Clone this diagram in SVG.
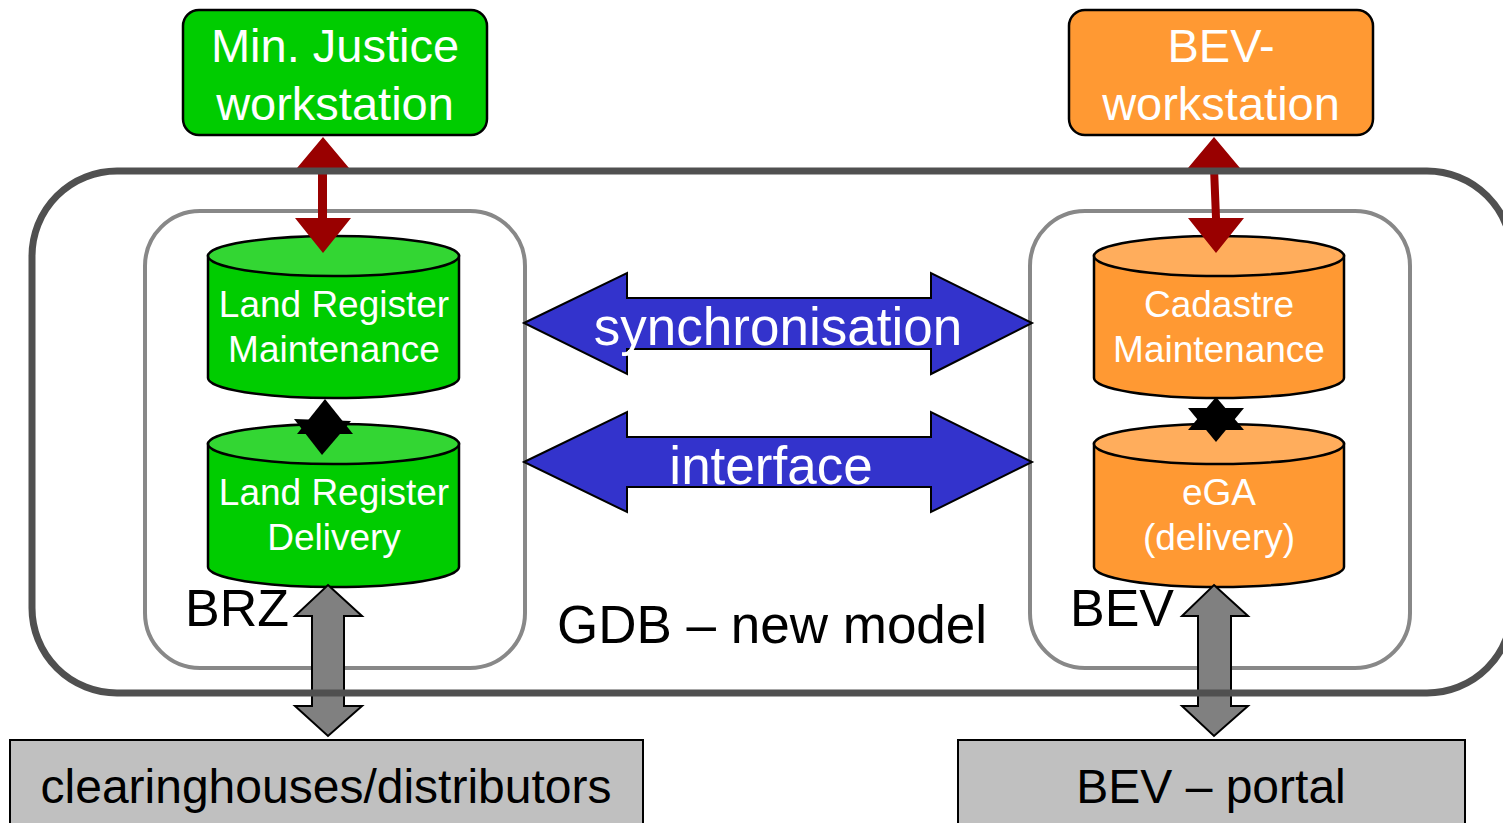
<svg xmlns="http://www.w3.org/2000/svg" width="1503" height="823" viewBox="0 0 1503 823">
<style>
  text { font-family: "Liberation Sans", Arial, sans-serif; }
  .w { fill: #ffffff; text-anchor: middle; }
  .k { fill: #000000; }
  .ws { font-size: 47px; }
  .cy { font-size: 37px; }
  .big { font-size: 53px; }
  .bot { font-size: 48px; text-anchor: middle; }
  .inner { fill: #ffffff; stroke: #888888; stroke-width: 4; }
  .green { fill: #00CC00; stroke: #000; stroke-width: 2.5; }
  .greenTop { fill: #33D633; stroke: #000; stroke-width: 2.5; }
  .orange { fill: #FF9933; stroke: #000; stroke-width: 2.5; }
  .orangeTop { fill: #FFAD5C; stroke: #000; stroke-width: 2.5; }
  .red { fill: #990000; }
  .blue { fill: #3333CC; stroke: #000; stroke-width: 2; }
  .grey { fill: #808080; stroke: #000; stroke-width: 2; }
  .star { fill: #000; }
  .portal { fill: #C0C0C0; stroke: #000; stroke-width: 2; }
</style>
<rect x="0" y="0" width="1503" height="823" fill="#ffffff"/>

<g id="container-gdb">
  <rect x="32" y="171" width="1480" height="522" rx="85" ry="85" fill="#ffffff"/>
</g>

<g id="zone-brz">
  <rect class="inner" x="145" y="211" width="380" height="457" rx="55" ry="55"/>
  <text class="k" x="185" y="626" font-size="52">BRZ</text>
</g>

<g id="zone-bev">
  <rect class="inner" x="1030" y="211" width="380" height="457" rx="55" ry="55"/>
  <text class="k" x="1070" y="626" font-size="52">BEV</text>
</g>

<g id="node-minjustice">
  <rect class="green" x="183" y="10" width="304" height="125" rx="16" ry="16"/>
  <text class="w ws" x="335" y="62">Min. Justice</text>
  <text class="w ws" x="335" y="120">workstation</text>
</g>

<g id="node-bevws">
  <rect class="orange" x="1069" y="10" width="304" height="125" rx="16" ry="16"/>
  <text class="w ws" x="1221" y="62">BEV-</text>
  <text class="w ws" x="1221" y="120">workstation</text>
</g>

<g id="node-lr-maint">
  <path class="green" d="M208,256 L208,378 A125.5,20 0 0 0 459,378 L459,256 Z"/>
  <ellipse class="greenTop" cx="333.5" cy="256" rx="125.5" ry="20"/>
  <text class="w cy" x="334" y="317">Land Register</text>
  <text class="w cy" x="334" y="362">Maintenance</text>
</g>

<g id="node-lr-delivery">
  <path class="green" d="M208,444 L208,567 A125.5,20 0 0 0 459,567 L459,444 Z"/>
  <ellipse class="greenTop" cx="333.5" cy="444" rx="125.5" ry="20"/>
  <text class="w cy" x="334" y="505">Land Register</text>
  <text class="w cy" x="334" y="550">Delivery</text>
</g>

<g id="node-cad-maint">
  <path class="orange" d="M1094,256 L1094,378 A125,20 0 0 0 1344,378 L1344,256 Z"/>
  <ellipse class="orangeTop" cx="1219" cy="256" rx="125" ry="20"/>
  <text class="w cy" x="1219" y="317">Cadastre</text>
  <text class="w cy" x="1219" y="362">Maintenance</text>
</g>

<g id="node-ega">
  <path class="orange" d="M1094,444 L1094,567 A125,20 0 0 0 1344,567 L1344,444 Z"/>
  <ellipse class="orangeTop" cx="1219" cy="444" rx="125" ry="20"/>
  <text class="w cy" x="1219" y="505">eGA</text>
  <text class="w cy" x="1219" y="550">(delivery)</text>
</g>

<g id="node-clearinghouses">
  <rect class="portal" x="10" y="740" width="633" height="100"/>
  <text class="k bot" x="326" y="803">clearinghouses/distributors</text>
</g>

<g id="node-bevportal">
  <rect class="portal" x="958" y="740" width="507" height="100"/>
  <text class="k bot" x="1211" y="803">BEV – portal</text>
</g>

<g id="connectors">
  <polygon class="red" points="323,137 349,168 327,168 327,218 351,218 323,253 295,218 318,218 318,168 297,168"/>
  <polygon class="red" points="1214,137 1240,168 1218,168 1220,218 1244,218 1216,253 1188,218 1212,218 1210,168 1188,168"/>
  <polygon class="star" points="325,399 353,434 297,434"/>
  <polygon class="star" points="322,455 294,419 351,421"/>
  <polygon class="star" points="1216,397 1244,430 1188,430"/>
  <polygon class="star" points="1216,442 1188,408 1244,408"/>
  <polygon class="blue" points="524,323 627,273 627,298 931,298 931,273 1032,323 931,374 931,349 627,349 627,374"/>
  <polygon class="blue" points="524,462 627,412 627,437 931,437 931,412 1032,462 931,512 931,487 627,487 627,512"/>
  <polygon class="grey" points="328,585 362,616 344,616 344,706 362,706 328,736 295,706 312,706 312,616 295,616"/>
  <polygon class="grey" points="1214,585 1248,616 1231,616 1231,706 1248,706 1214,736 1182,706 1198,706 1198,616 1182,616"/>
  <text class="w big" x="778" y="345">synchronisation</text>
  <text class="w big" x="771" y="484">interface</text>
</g>

<g id="container-outline">
  <rect x="32" y="171" width="1480" height="522" rx="85" ry="85" fill="none" stroke="#505050" stroke-width="7"/>
  <text class="k big" x="557" y="643">GDB – new model</text>
</g>
</svg>
